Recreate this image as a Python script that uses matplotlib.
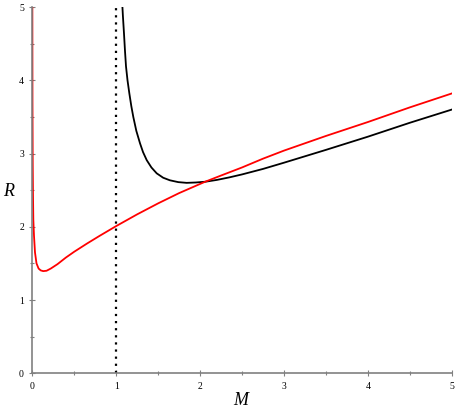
import matplotlib
matplotlib.use("Agg")
import matplotlib.pyplot as plt
from matplotlib.ticker import MultipleLocator

# red curve
red_m = [0.0005, 0.002, 0.005, 0.008, 0.012, 0.02, 0.032, 0.05, 0.075, 0.1,
         0.13, 0.17, 0.22, 0.3, 0.4, 0.5, 0.65, 0.8, 1.0, 1.25, 1.5, 1.75,
         2.06, 2.25, 2.5, 2.75, 3.0, 3.5, 4.0, 4.5, 5.0]
red_r = [5.0, 3.7, 2.85, 2.45, 2.1, 1.88, 1.65, 1.50, 1.43, 1.405,
         1.395, 1.40, 1.43, 1.49, 1.58, 1.66, 1.77, 1.875, 2.01, 2.17, 2.32, 2.46,
         2.615, 2.70, 2.81, 2.93, 3.04, 3.24, 3.43, 3.63, 3.82]

# black curve
blk_m = [1.073, 1.08, 1.093, 1.105, 1.117, 1.135, 1.157, 1.18, 1.204, 1.24,
         1.284, 1.32, 1.364, 1.42, 1.483, 1.56, 1.64, 1.74, 1.84, 1.95,
         2.06, 2.2, 2.35, 2.5, 2.75, 3.0, 3.5, 4.0, 4.5, 5.0]
blk_r = [5.03, 4.88, 4.64, 4.40, 4.19, 4.0, 3.82, 3.65, 3.50, 3.31,
         3.14, 3.02, 2.91, 2.81, 2.73, 2.67, 2.635, 2.61, 2.60, 2.605,
         2.615, 2.64, 2.675, 2.715, 2.79, 2.875, 3.05, 3.23, 3.42, 3.60]

asym = 1.0  # dotted line

fig = plt.figure(figsize=(4.57, 4.12), dpi=100)
ax = fig.add_axes([0.0707, 0.0939, 0.9177, 0.889])

ax.plot([asym, asym], [0, 5], color="black", linestyle=(0, (1, 2.2)), linewidth=1.6)
ax.plot(blk_m, blk_r, color="black", linewidth=1.3)
ax.plot(red_m, red_r, color="red", linewidth=1.3)

ax.set_xlim(0, 5)
ax.set_ylim(0, 5)
for s in ["top", "right"]:
    ax.spines[s].set_visible(False)
for s in ["left", "bottom"]:
    ax.spines[s].set_color("#808080")
    ax.spines[s].set_linewidth(1.2)

ax.xaxis.set_major_locator(MultipleLocator(1))
ax.yaxis.set_major_locator(MultipleLocator(1))
ax.xaxis.set_minor_locator(MultipleLocator(0.5))
ax.yaxis.set_minor_locator(MultipleLocator(0.5))
ax.tick_params(which="both", direction="inout", color="#808080", width=0.8)
ax.tick_params(which="major", length=4, labelsize=7, pad=4)
ax.tick_params(which="minor", length=2.5)
for lab in ax.get_xticklabels() + ax.get_yticklabels():
    lab.set_family("Liberation Serif")

ax.set_xlabel("M", family="Liberation Serif", style="italic", fontsize=13,
              va="center")
ax.xaxis.set_label_coords(0.497, -0.075)
ax.set_ylabel("R", family="Liberation Serif", style="italic", fontsize=13,
              rotation=0, va="center")
ax.yaxis.set_label_coords(-0.057, 0.497)

fig.savefig("out.png", dpi=100)
